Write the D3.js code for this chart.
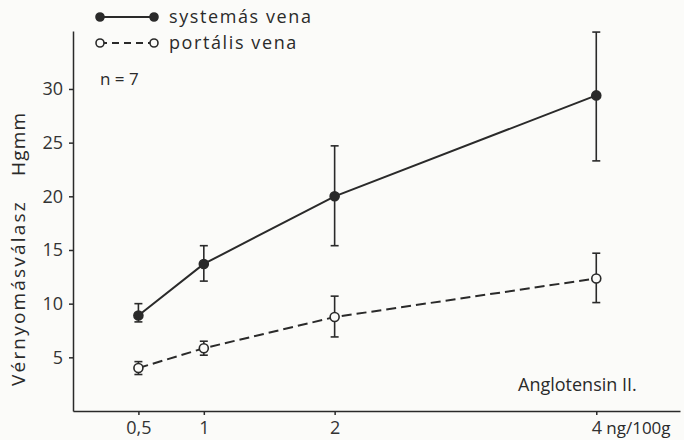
<!DOCTYPE html>
<html>
<head>
<meta charset="utf-8">
<script src="https://cdn.jsdelivr.net/npm/d3@7"></script>
<style>
  body { margin: 0; background: #fbfbf9; }
  svg { display: block; font-family: "Open Sans", sans-serif; }
  .axis path, .axis line { stroke: #2a2a2a; stroke-width: 1.5; }
  .axis text { font-size: 18px; fill: #333; font-family: "Open Sans", sans-serif; }
  .lbl { fill: #2a2a2a; }
</style>
</head>
<body>
<svg id="chart" width="684" height="440"></svg>
<script>
// dose of angiotensin II, ng/100 g
const doses = [0.5, 1, 2, 4]
const xTicks = [0.5, 1, 2, 4]
const yTicks = [5, 10, 15, 20, 25, 30]

// systemás vena: mean, upper and lower end of the error bar
const systemic = [8.9, 13.7, 20.0, 29.4]
const systemicHi = [10.0, 15.4, 24.7, 35.3]
const systemicLo = [8.3, 12.1, 15.4, 23.3]

// portális vena
const portal = [4.0, 5.85, 8.75, 12.35]
const portalHi = [4.6, 6.5, 10.7, 14.7]
const portalLo = [3.4, 5.2, 6.9, 10.1]

const ink = '#2a2a2a'
const svg = d3.select('#chart')

const x = d3.scaleLinear().domain([0, 4.64]).range([73, 680])
const y = d3.scaleLinear().domain([0, 35.4]).range([411, 31])

// axes
svg.append('g')
  .attr('class', 'axis')
  .attr('transform', `translate(0, ${y(0)})`)
  .call(d3.axisBottom(x)
    .tickValues(xTicks)
    .tickSize(4)
    .tickSizeOuter(0)
    .tickPadding(6)
    .tickFormat(d => String(d).replace('.', ',')))

svg.append('g')
  .attr('class', 'axis')
  .attr('transform', `translate(${x(0)}, 0)`)
  .call(d3.axisLeft(y)
    .tickValues(yTicks)
    .tickSize(4)
    .tickSizeOuter(0)
    .tickPadding(6))

const series = [
  {mean: systemic, hi: systemicHi, lo: systemicLo, dash: null, fill: ink},
  {mean: portal, hi: portalHi, lo: portalLo, dash: '10 5', fill: '#fbfbf9'}
]

const line = d3.line()
  .x((d, i) => x(doses[i]))
  .y(d => y(d))

series.forEach(s => {
  svg.append('path')
    .datum(s.mean)
    .attr('d', line)
    .attr('fill', 'none')
    .attr('stroke', ink)
    .attr('stroke-width', 2)
    .attr('stroke-dasharray', s.dash)

  const bars = svg.append('g')
    .selectAll('g')
    .data(doses)
    .enter()
    .append('g')
    .attr('stroke', ink)
    .attr('stroke-width', 1.6)

  bars.append('line')
    .attr('x1', d => x(d)).attr('x2', d => x(d))
    .attr('y1', (d, i) => y(s.hi[i])).attr('y2', (d, i) => y(s.lo[i]))
  bars.append('line')
    .attr('x1', d => x(d) - 4).attr('x2', d => x(d) + 4)
    .attr('y1', (d, i) => y(s.hi[i])).attr('y2', (d, i) => y(s.hi[i]))
  bars.append('line')
    .attr('x1', d => x(d) - 4).attr('x2', d => x(d) + 4)
    .attr('y1', (d, i) => y(s.lo[i])).attr('y2', (d, i) => y(s.lo[i]))

  svg.append('g')
    .selectAll('circle')
    .data(s.mean)
    .enter()
    .append('circle')
    .attr('cx', (d, i) => x(doses[i]))
    .attr('cy', d => y(d))
    .attr('r', 4.5)
    .attr('fill', s.fill)
    .attr('stroke', ink)
    .attr('stroke-width', 1.6)
})

// legend
const legend = [
  {name: 'systemás vena', dash: null, fill: ink, y: 17},
  {name: 'portális vena', dash: '7 5', fill: '#fbfbf9', y: 43}
]
legend.forEach(l => {
  svg.append('line')
    .attr('x1', 100).attr('x2', 154)
    .attr('y1', l.y).attr('y2', l.y)
    .attr('stroke', ink).attr('stroke-width', 2)
    .attr('stroke-dasharray', l.dash)
  ;[100, 154].forEach(cx => {
    svg.append('circle')
      .attr('cx', cx).attr('cy', l.y).attr('r', 4)
      .attr('fill', l.fill).attr('stroke', ink).attr('stroke-width', 1.6)
  })
  svg.append('text')
    .attr('class', 'lbl')
    .attr('x', 169).attr('y', l.y + 6)
    .attr('font-size', 18)
    .attr('letter-spacing', 1.6)
    .text(l.name)
})

svg.append('text')
  .attr('class', 'lbl')
  .attr('x', 100).attr('y', 85)
  .attr('font-size', 17)
  .text('n = 7')

svg.append('text')
  .attr('class', 'lbl')
  .attr('x', 518).attr('y', 391)
  .attr('font-size', 18)
  .text('Anglotensin II.')

svg.append('text')
  .attr('class', 'lbl')
  .attr('x', x(4) + 10).attr('y', y(0) + 23)
  .attr('font-size', 17)
  .text('ng/100g')

svg.append('text')
  .attr('class', 'lbl')
  .attr('transform', 'translate(25, 386) rotate(-90)')
  .attr('font-size', 19)
  .attr('letter-spacing', 2.2)
  .text('Vérnyomásválasz')

svg.append('text')
  .attr('class', 'lbl')
  .attr('transform', 'translate(25, 176) rotate(-90)')
  .attr('font-size', 19)
  .attr('letter-spacing', 1.2)
  .text('Hgmm')
</script>
</body>
</html>
